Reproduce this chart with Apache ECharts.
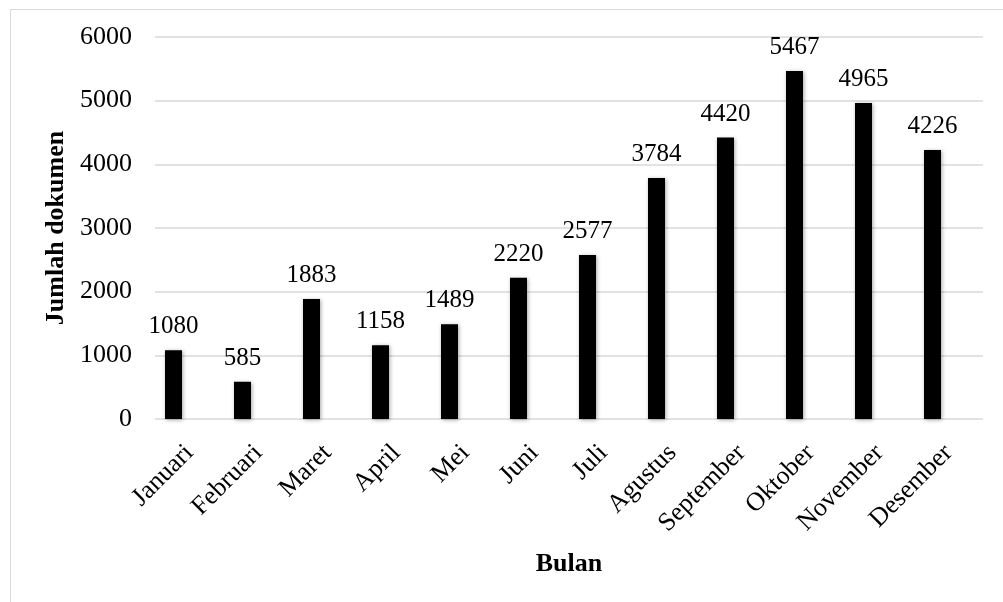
<!DOCTYPE html>
<html>
<head>
<meta charset="UTF-8">
<title>Jumlah dokumen per bulan</title>
<script src="https://cdn.jsdelivr.net/npm/echarts@6/dist/echarts.min.js"></script>
<style>
	html, body { margin: 0; padding: 0; background: #fff; }
	#main { width: 1003px; height: 602px; }
</style>
</head>
<body>
<div id="main"></div>
<script type="text/javascript">
	var bulan = ['Januari', 'Februari', 'Maret', 'April', 'Mei', 'Juni', 'Juli', 'Agustus', 'September', 'Oktober', 'November', 'Desember'];
	var jumlah = [1080, 585, 1883, 1158, 1489, 2220, 2577, 3784, 4420, 5467, 4965, 4226];
	var yMin = 0;
	var yMax = 6000;
	var yStep = 1000;

	var font = '"Liberation Serif", "Times New Roman", serif';
	var myChart = echarts.init(document.getElementById('main'));

	var option = {
		backgroundColor: '#fff',
		animation: false,
		graphic: [{
			type: 'rect',
			left: 8, top: 7,
			shape: { width: 1010, height: 610 },
			style: { fill: 'none', stroke: '#d9d9d9', lineWidth: 1 }
		}],
		grid: [
			// grid 0: gridlines, y labels, month labels
			{ left: 155, right: 20, top: 37, bottom: 183 },
			// grid 1: bars (sit a bit left of the gridlines, like the original)
			{ left: 139, right: 36, top: 37, bottom: 183 }
		],
		xAxis: [{
			gridIndex: 0,
			type: 'category',
			data: bulan,
			axisLine: { show: false },
			axisTick: { show: false },
			axisLabel: {
				interval: 0,
				rotate: 45,
				margin: 30,
				color: '#000',
				fontFamily: font,
				fontSize: 26
			},
			name: 'Bulan',
			nameLocation: 'middle',
			nameGap: 132,
			nameTextStyle: { color: '#000', fontFamily: font, fontSize: 26, fontWeight: 'bold' }
		}, {
			gridIndex: 1,
			type: 'category',
			data: bulan,
			show: false
		}],
		yAxis: [{
			gridIndex: 0,
			type: 'value',
			min: yMin, max: yMax, interval: yStep,
			axisLine: { show: false },
			axisTick: { show: false },
			axisLabel: {
				margin: 23, color: '#000', fontFamily: font, fontSize: 26,
				formatter: function (v) { return String(v); }
			},
			splitLine: { lineStyle: { color: '#d9d9d9', width: 1.5 } },
			name: 'Jumlah dokumen',
			nameLocation: 'middle',
			nameGap: 84,
			nameTextStyle: { color: '#000', fontFamily: font, fontSize: 26, fontWeight: 'bold' }
		}, {
			gridIndex: 1,
			type: 'value',
			min: yMin, max: yMax, interval: yStep,
			show: false,
			splitLine: { show: false }
		}],
		series: [{
			type: 'bar',
			xAxisIndex: 1,
			yAxisIndex: 1,
			data: jumlah,
			barWidth: 17,
			itemStyle: {
				color: '#000',
				shadowColor: 'rgba(0,0,0,0.35)',
				shadowBlur: 4,
				shadowOffsetX: 1,
				shadowOffsetY: 1
			},
			label: {
				show: true,
				position: 'top',
				distance: 11,
				color: '#000',
				fontFamily: font,
				fontSize: 25
			}
		}]
	};
	myChart.setOption(option);
</script>
</body>
</html>
